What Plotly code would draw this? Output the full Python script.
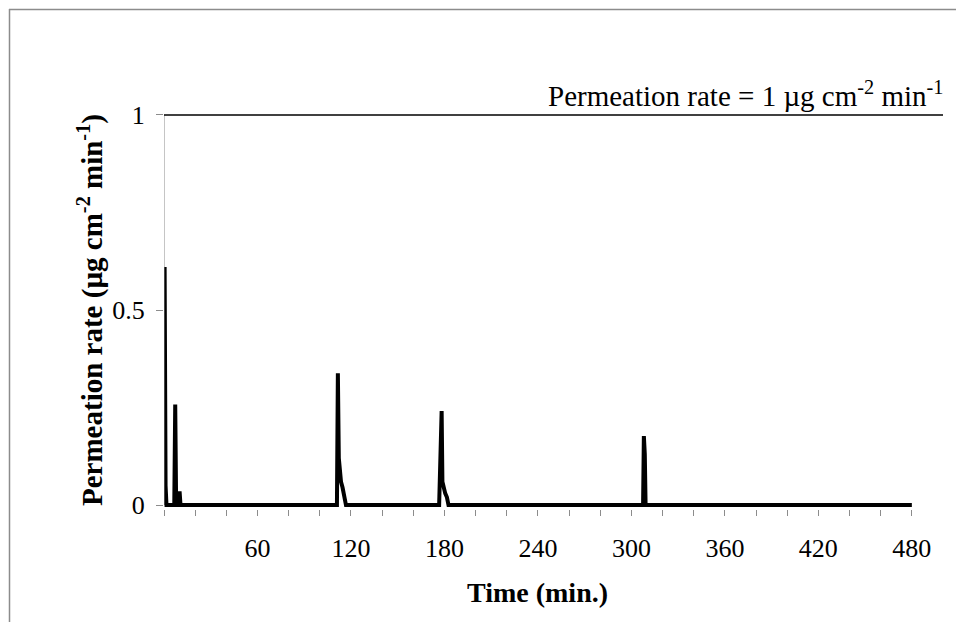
import plotly.graph_objects as go

# Time (min) and permeation rate (µg cm-2 min-1)
time_min = [0, 0.4, 1.0, 1.6,
            6.6, 7.2, 7.8,
            9.4, 10.0, 10.6,
            111.0, 111.6, 112.2, 112.8, 113.6, 114.6, 115.8, 116.8,
            176.6, 177.1, 178.2, 178.7, 179.5, 180.5, 181.6, 182.6,
            307.5, 308.0, 308.6, 309.1,
            480]
rate = [0, 0.61, 0.05, 0,
        0, 0.258, 0,
        0, 0.035, 0,
        0, 0.338, 0.12, 0.077, 0.06, 0.045, 0.02, 0,
        0, 0.085, 0.241, 0.06, 0.04, 0.03, 0.02, 0,
        0, 0.177, 0.13, 0,
        0]

threshold = 1
x_ticks = list(range(0, 481, 20))
x_labels = [str(v) if (v % 60 == 0 and v > 0) else "" for v in x_ticks]
y_ticks = [0, 0.5, 1]
y_labels = ["0", "0.5", "1"]

FONT = "Liberation Serif, Times New Roman, serif"
GRAY = "#8c8c8c"

fig = go.Figure()
fig.add_trace(go.Scatter(x=time_min, y=rate, mode="lines",
                         line=dict(color="black", width=4),
                         hoverinfo="skip", showlegend=False))

fig.update_layout(
    width=956, height=622,
    margin=dict(l=164, r=13, t=111, b=113),
    paper_bgcolor="white", plot_bgcolor="white",
    font=dict(family=FONT, size=26, color="black"),
    xaxis=dict(range=[0, 500], tickvals=x_ticks, ticktext=x_labels,
               ticks="outside", ticklen=6, tickcolor=GRAY, tickwidth=1,
               ticklabelstandoff=10,
               showline=False, showgrid=False, zeroline=False,
               tickfont=dict(family=FONT, size=26)),
    yaxis=dict(range=[-0.01, 1.01], tickvals=y_ticks, ticktext=y_labels,
               ticks="outside", ticklen=7, tickcolor=GRAY, tickwidth=1,
               ticklabelstandoff=6,
               showline=False, showgrid=False, zeroline=False,
               tickfont=dict(family=FONT, size=26)),
)

# y axis line
fig.add_shape(type="line", xref="x", yref="y", x0=0, x1=0, y0=0, y1=1,
              line=dict(color=GRAY, width=1))
# threshold line
fig.add_shape(type="line", xref="x", yref="y", x0=0, x1=500,
              y0=threshold, y1=threshold, line=dict(color="black", width=1.5))
# outer border (top and left visible)
fig.add_shape(type="line", xref="paper", yref="paper",
              x0=-164/779 + 9/779, x1=2, y0=1 + (111 - 9.5)/398, y1=1 + (111 - 9.5)/398,
              line=dict(color=GRAY, width=1.5))
fig.add_shape(type="line", xref="paper", yref="paper",
              x0=-164/779 + 9.5/779, x1=-164/779 + 9.5/779, y0=1 + (111 - 9)/398, y1=-1,
              line=dict(color=GRAY, width=1.5))

fig.add_annotation(x=500, y=threshold, xref="x", yref="y", xanchor="right", yanchor="bottom",
                   xshift=2, yshift=1, showarrow=False,
                   text="Permeation rate = 1 µg cm<sup>-2</sup> min<sup>-1</sup>",
                   font=dict(family=FONT, size=29))
fig.add_annotation(x=240, y=0, xref="x", yref="paper", yshift=-83, xanchor="center",
                   yanchor="middle", showarrow=False, text="<b>Time (min.)</b>",
                   font=dict(family=FONT, size=28))
fig.add_annotation(x=0, y=0.5, xref="paper", yref="y", xshift=-74, xanchor="center",
                   yanchor="middle", showarrow=False, textangle=-90,
                   text="<b>Permeation rate (µg cm<sup>-2</sup> min<sup>-1</sup>)</b>",
                   font=dict(family=FONT, size=29))

fig.write_html("out.html")
